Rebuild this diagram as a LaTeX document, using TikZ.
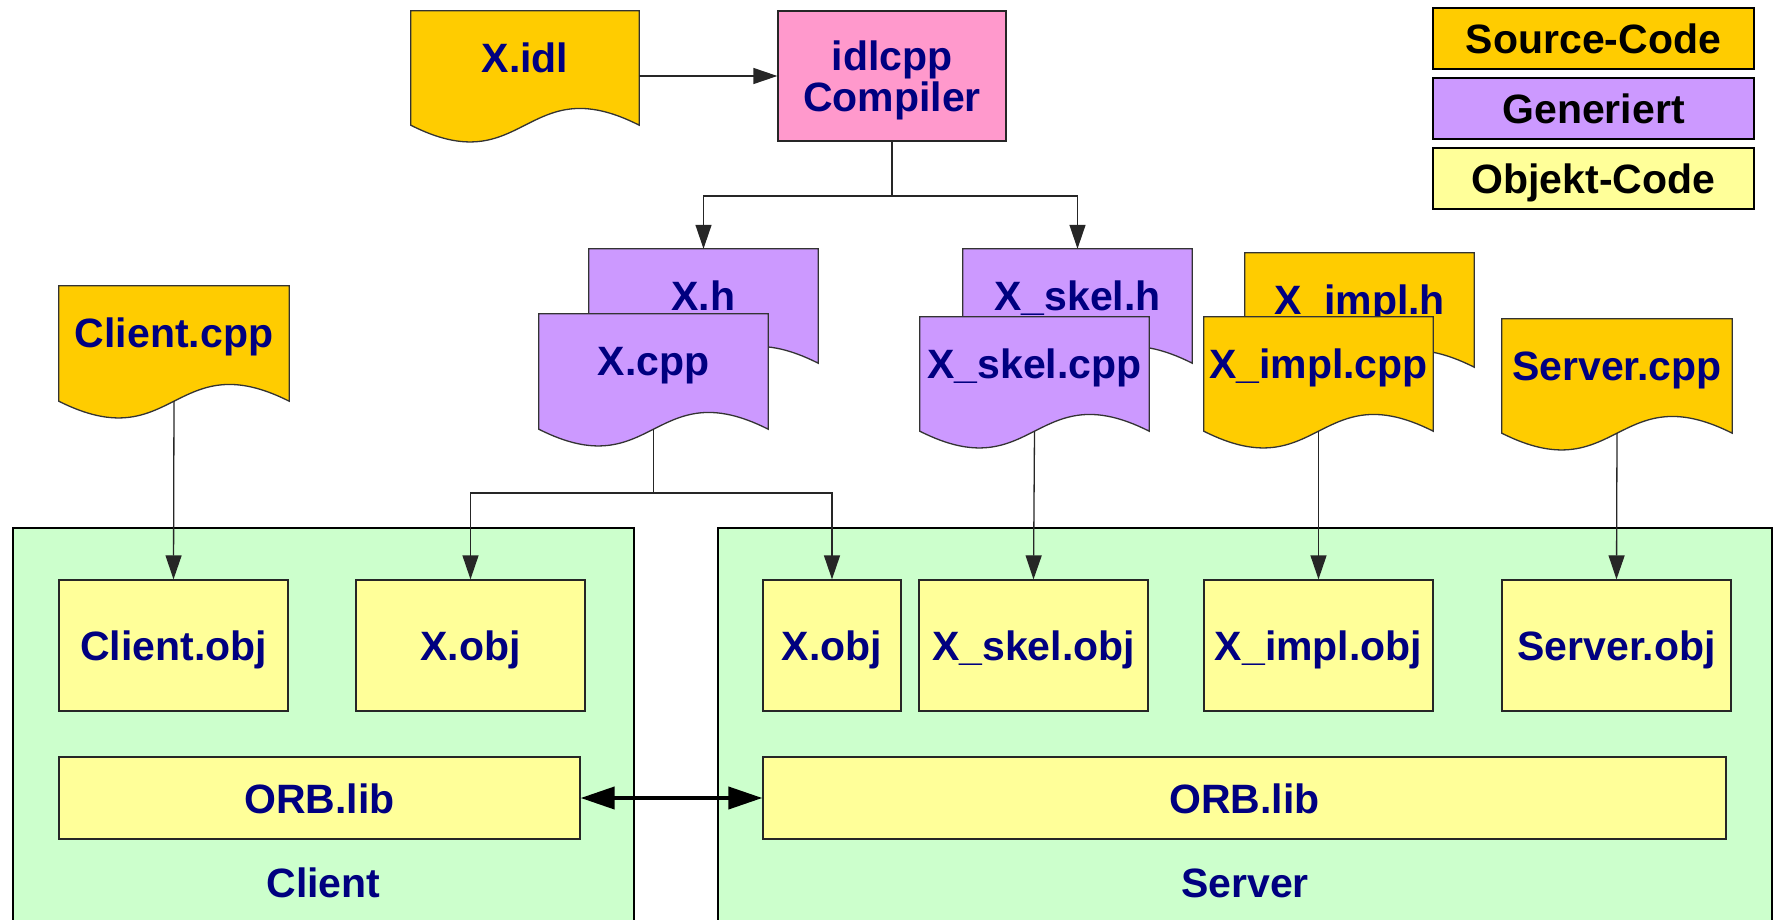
\documentclass[tikz,border=0pt]{standalone}
\usepackage{fontspec}
\setmainfont{Liberation Sans}
\usetikzlibrary{arrows.meta,calc,fit}

\definecolor{srcY}{HTML}{FFCC00}
\definecolor{genP}{HTML}{CC99FF}
\definecolor{objY}{HTML}{FFFF99}
\definecolor{cmpP}{HTML}{FF99CC}
\definecolor{hostG}{HTML}{CCFFCC}
\definecolor{navy}{HTML}{000080}

\tikzset{
  lbl/.style={font=\fontsize{41}{41}\selectfont\bfseries, text=navy, inner sep=0pt},
  docline/.style={draw=black!80, line width=1.3pt},
  conn/.style={draw=black!85, line width=1.3pt, -{Triangle[length=24pt,width=16pt]}},
  plainline/.style={draw=black!85, line width=1.3pt},
  objbox/.style={lbl, draw=black!85, line width=1.3pt, fill=objY, text height=30pt, text depth=0pt},
  host/.style={draw=black, line width=2.5pt, fill=hostG, inner sep=0pt},
  cmpbox/.style={draw=black!85, line width=1.3pt, fill=cmpP, minimum width=228pt, minimum height=130pt},
  legendbox/.style={lbl, text=black, draw=black, line width=2pt, minimum width=321pt, minimum height=61pt, text height=30pt, text depth=0pt},
  duplex/.style={draw=black, line width=4pt, {Triangle[length=34pt,width=22pt]}-{Triangle[length=34pt,width=22pt]}}
}

% document symbol: name, left, top, right, bottom of the sides, fill, text
\newcommand\docfile[7]{%
  \node[fit={(#2,#3) (#4,#5)}, inner sep=0pt] (#1) {};
  \draw[docline, fill=#6] (#1.north west) -- (#1.north east) -- (#1.south east)
    .. controls ($(#1.south)+(0,-58)$) and ($(#1.south)+(0,58)$) .. (#1.south west) -- cycle;
  \node[lbl, anchor=base] (#1-t) at ($(#1.north)+(0,62)$) {#7};
}

\begin{document}
\begin{tikzpicture}[x=1pt,y=-1pt]
\useasboundingbox (0,0) rectangle (1781,920);
\clip (0,0) rectangle (1781,920);

% client and server hosts
\node[host, fit={(13,528) (634,945)}] (chost) {};
\node[lbl, anchor=base] (chost-t) at (323.5,897) {Client};
\node[host, fit={(718,528) (1772,945)}] (shost) {};
\node[lbl, anchor=base] (shost-t) at (1245,897) {Server};

% object files
\node[objbox, minimum width=229pt, minimum height=131pt] (cobj) at (173.5,645.5) {Client.obj};
\node[objbox, minimum width=229pt, minimum height=131pt] (xobjc) at (470.5,645.5) {X.obj};
\node[objbox, minimum width=138pt, minimum height=131pt] (xobjs) at (832,645.5) {X.obj};
\node[objbox, minimum width=229pt, minimum height=131pt] (skobj) at (1033.5,645.5) {X\_skel.obj};
\node[objbox, minimum width=229pt, minimum height=131pt] (imobj) at (1318.5,645.5) {X\_impl.obj};
\node[objbox, minimum width=229pt, minimum height=131pt] (sobj) at (1616.5,645.5) {Server.obj};
\node[objbox, minimum width=521pt, minimum height=82pt] (orbc) at (319.5,798) {ORB.lib};
\node[objbox, minimum width=963pt, minimum height=82pt] (orbs) at (1244.5,798) {ORB.lib};

% IDL compiler
\docfile{xidl}{411}{11}{639}{125}{srcY}{X.idl}
\node[cmpbox] (cmp) at (892,76) {};
\node[lbl, align=center] (cmp-t) at (892,80) {idlcpp\\Compiler};

% sources, generated and hand-written
\docfile{xh}{589}{249}{818}{363}{genP}{X.h}
\docfile{xcpp}{539}{314}{768}{429}{genP}{X.cpp}
\docfile{xskh}{963}{249}{1192}{363}{genP}{X\_skel.h}
\docfile{xskc}{920}{317}{1149}{431}{genP}{X\_skel.cpp}
\docfile{ximh}{1245}{253}{1474}{367}{srcY}{X\_impl.h}
\docfile{ximc}{1204}{317}{1433}{431}{srcY}{X\_impl.cpp}
\docfile{ccpp}{59}{286}{289}{401}{srcY}{Client.cpp}
\docfile{scpp}{1502}{319}{1732}{433}{srcY}{Server.cpp}

% legend
\node[legendbox, fill=srcY] (lgsrc) at (1593.5,38.5) {Source-Code};
\node[legendbox, fill=genP] (lggen) at (1593.5,108.5) {Generiert};
\node[legendbox, fill=objY] (lgobj) at (1593.5,178.5) {Objekt-Code};

% build flow
\coordinate (split) at (892,196);
\coordinate (xsplit) at (653.5,493);
\draw[conn] (xidl.east |- cmp.west) -- (cmp.west);
\draw[plainline] (cmp.south) -- (split);
\draw[conn] (split) -| (xh.north);
\draw[conn] (split) -| (xskh.north);
\draw[plainline] (xcpp.south) -- (xsplit);
\draw[conn] (xsplit) -| (xobjc.north);
\draw[conn] (xsplit) -| (xobjs.north);
\draw[conn] (ccpp.south) -- (cobj.north);
\draw[conn] (xskc.south) -- (skobj.north);
\draw[conn] (ximc.south) -- (imobj.north);
\draw[conn] (scpp.south) -- (sobj.north);
\draw[duplex] (orbc.east) -- (orbs.west);
\end{tikzpicture}
\end{document}
